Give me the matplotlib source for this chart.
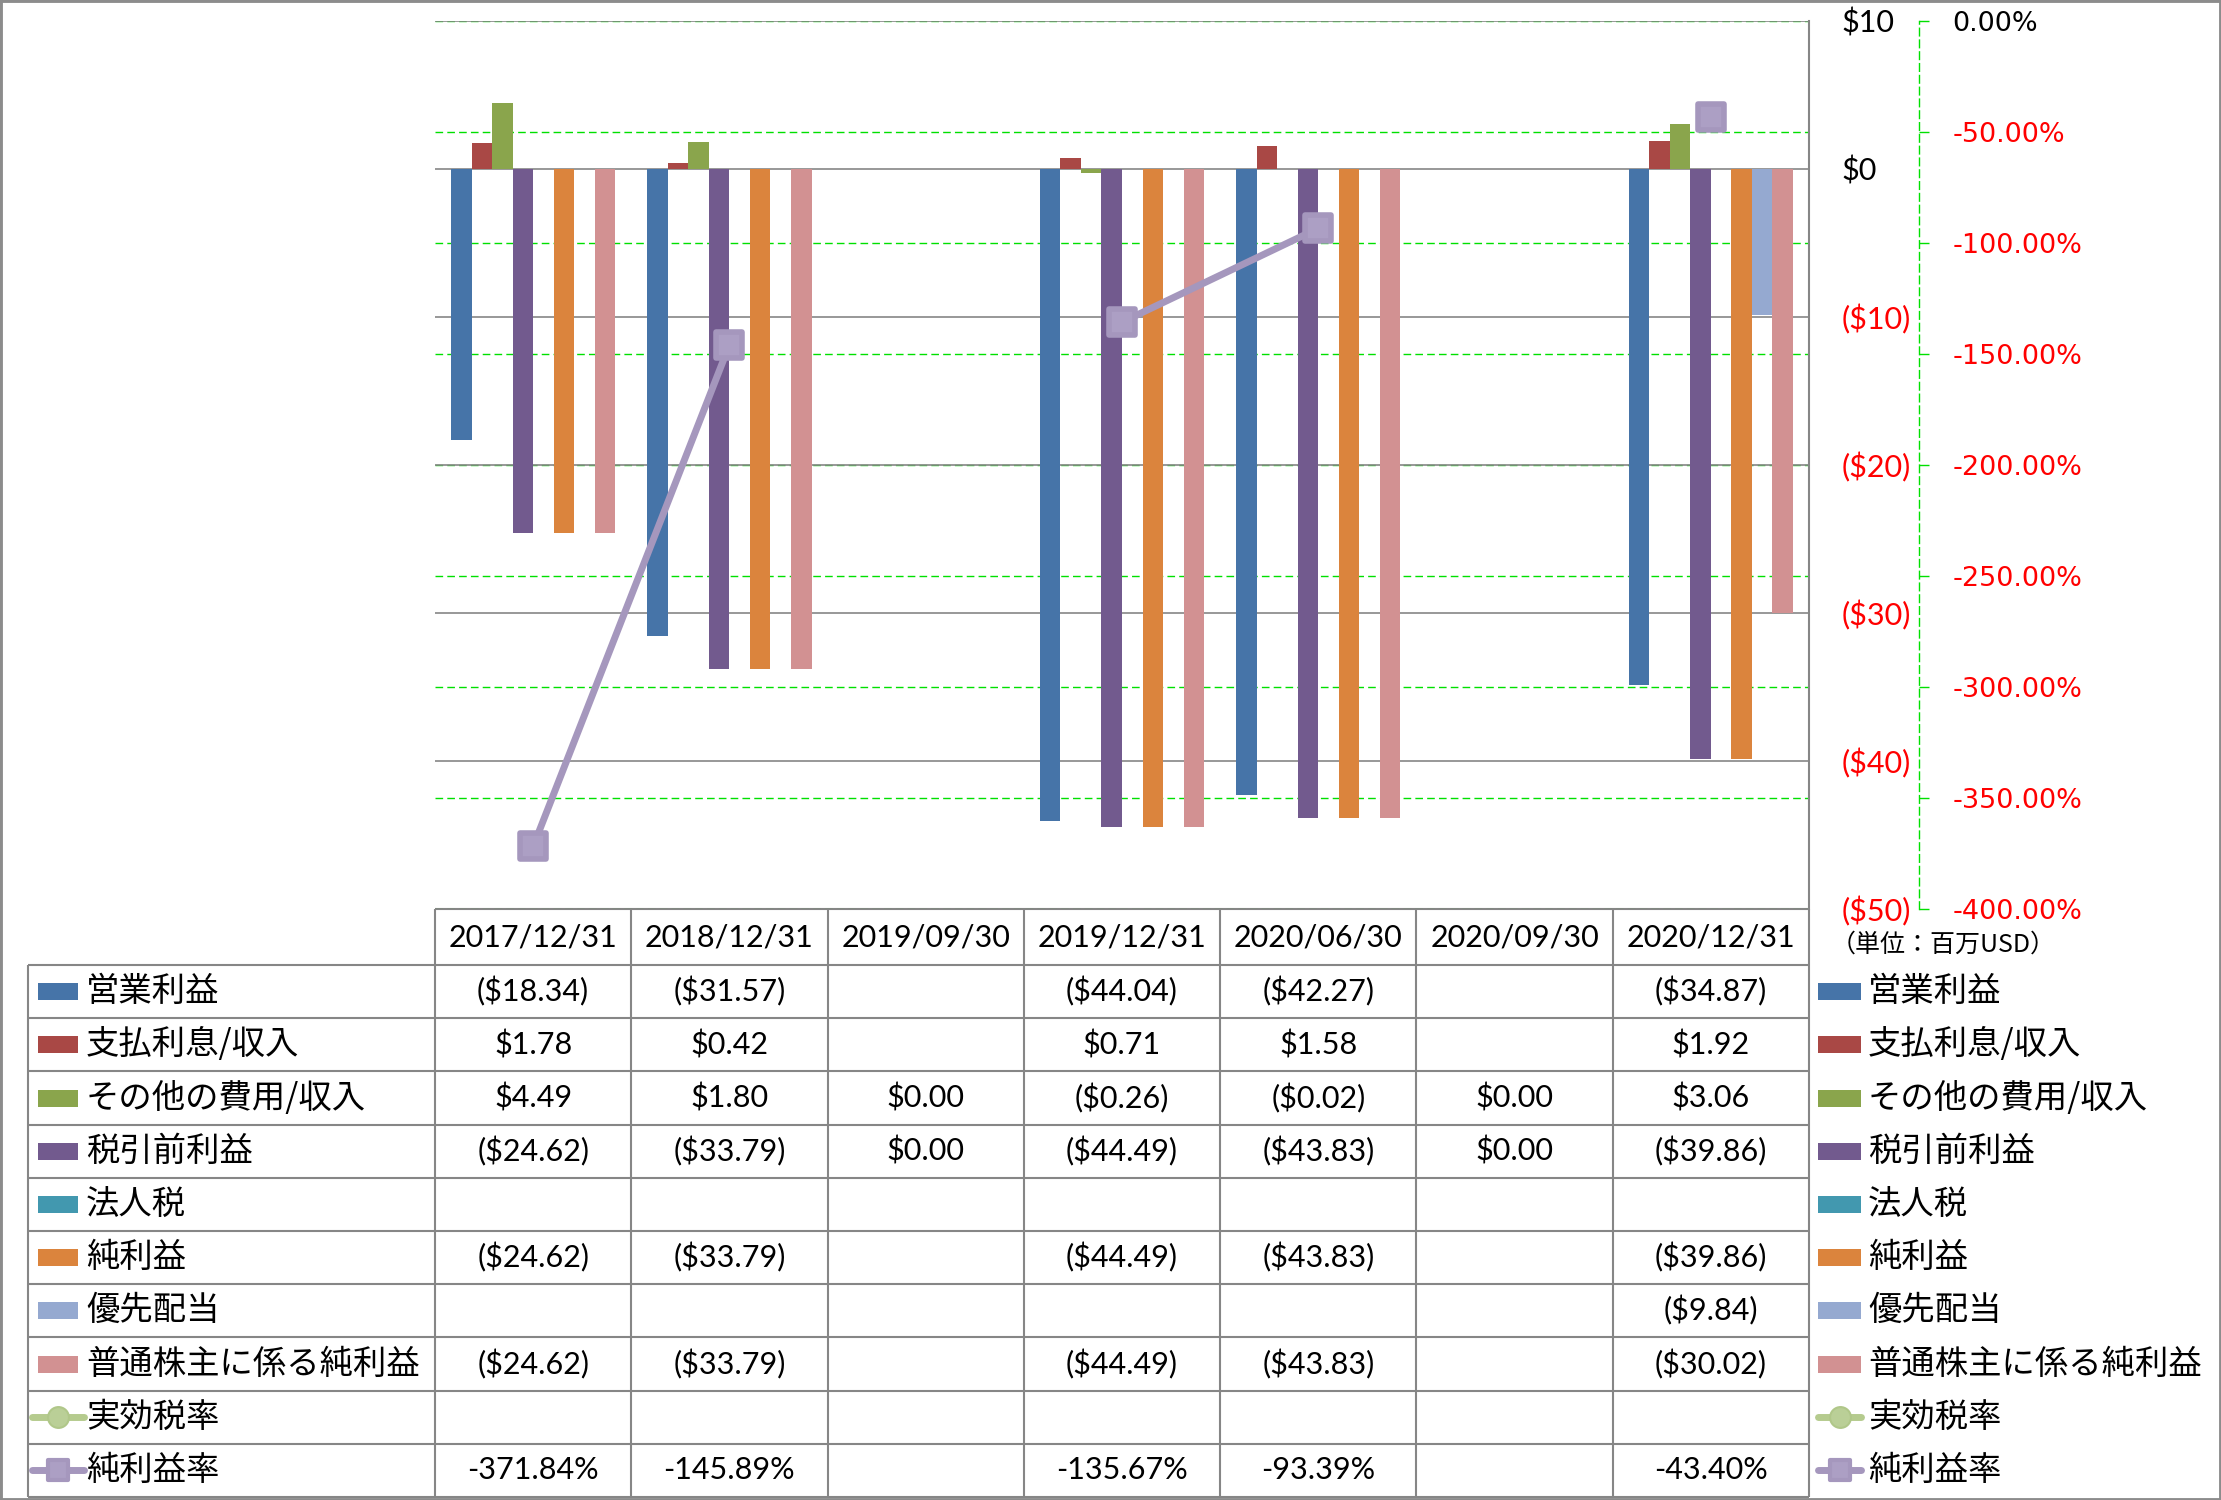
import numpy as np
import matplotlib
matplotlib.use("Agg")
from matplotlib import pyplot as plt
from matplotlib.markers import MarkerStyle
from matplotlib.patches import Rectangle

# ---- datos (millones USD) ----
dates = ["2017/12/31", "2018/12/31", "2019/09/30", "2019/12/31",
         "2020/06/30", "2020/09/30", "2020/12/31"]
nan = np.nan
op_income = [-18.34, -31.57, nan, -44.04, -42.27, nan, -34.87]
interest = [1.78, 0.42, nan, 0.71, 1.58, nan, 1.92]
other_exp = [4.49, 1.80, 0.00, -0.26, -0.02, 0.00, 3.06]
pretax = [-24.62, -33.79, 0.00, -44.49, -43.83, 0.00, -39.86]
income_tax = [nan] * 7
net_income = [-24.62, -33.79, nan, -44.49, -43.83, nan, -39.86]
pref_div = [nan, nan, nan, nan, nan, nan, -9.84]
net_common = [-24.62, -33.79, nan, -44.49, -43.83, nan, -30.02]
tax_rate = [nan] * 7
net_margin = [-371.84, -145.89, nan, -135.67, -93.39, nan, -43.40]

bar_names = ["営業利益", "支払利息/収入", "その他の費用/収入", "税引前利益",
             "法人税", "純利益", "優先配当", "普通株主に係る純利益"]
line_names = ["実効税率", "純利益率"]
bar_series = [op_income, interest, other_exp, pretax,
              income_tax, net_income, pref_div, net_common]
bar_colors = ["#4674A8", "#A94845", "#8AA54C", "#725A8E",
              "#4298AF", "#DB843D", "#95A9D0", "#D29192"]
line_colors = ["#B5CB8E", "#A597BD"]
usd_ticks = [10, 0, -10, -20, -30, -40, -50]
pct_ticks = [0, -0.5, -1.0, -1.5, -2.0, -2.5, -3.0, -3.5, -4.0]

W, H = 2221, 1500
NUM_FONT = ["Lato", "DejaVu Sans"]
JP_FONT = ["Noto Sans CJK JP", "DejaVu Sans"]
GRID = "#868686"
GREEN = "#00E000"


def box(x0, y0, x1, y1):
    # pixel box -> figure fraction
    return [x0 / W, 1 - y1 / H, (x1 - x0) / W, (y1 - y0) / H]


def fmt_usd(v):
    if np.isnan(v):
        return ""
    if v < 0:
        return "(${:.2f})".format(-v)
    return "${:.2f}".format(v)


def fmt_pct(v):
    if np.isnan(v):
        return ""
    return "{:.2f}%".format(v)


def usd_tick(v):
    return "(${:d})".format(-v) if v < 0 else "${:d}".format(v)


fig = plt.figure(figsize=(W / 100, H / 100), dpi=100)
fig.patch.set_facecolor("white")

ax = fig.add_axes(box(435, 21, 1809, 909))
ax_p = ax.twinx()
ax_l = ax.twinx()
ax_p.set_zorder(1)
ax.set_zorder(2)
ax_l.set_zorder(3)
ax.patch.set_visible(False)

ncat = len(dates)
xc = np.arange(ncat)
nb = len(bar_series)
w = 1.0 / (nb + 1.56)

for i, (vals, col) in enumerate(zip(bar_series, bar_colors)):
    v = np.array(vals, dtype=float)
    ok = ~np.isnan(v)
    ax.bar(xc[ok] + (i - (nb - 1) / 2) * w, v[ok], width=w, color=col,
           zorder=2, linewidth=0)

ax.set_xlim(-0.5, ncat - 0.5)
ax.set_ylim(-50, 10)
ax.set_xticks([])
ax.yaxis.tick_right()
ax.set_yticks(usd_ticks, [usd_tick(t) for t in usd_ticks])
ax.tick_params(axis="y", length=0, pad=23.5, labelsize=22)
for lab, t in zip(ax.get_yticklabels(), usd_ticks):
    lab.set_fontfamily(NUM_FONT)
    lab.set_color("red" if t < 0 else "black")
    lab.set_horizontalalignment("left")
ax.yaxis.grid(True, color=GRID, linewidth=1.2)
ax.set_axisbelow(True)
for s in ["left", "top", "bottom"]:
    ax.spines[s].set_visible(False)
ax.spines["right"].set_color(GRID)
ax.spines["right"].set_linewidth(1.5)

# eje porcentual (spine primero: set_position reinicia los ticks)
for s in ["left", "top", "bottom"]:
    ax_p.spines[s].set_visible(False)
ax_p.spines["right"].set_position(("axes", (1919 - 435) / (1809 - 435)))
ax_p.spines["right"].set_color(GREEN)
ax_p.spines["right"].set_linestyle((0, (5.5, 3)))
ax_p.spines["right"].set_linewidth(1)
ax_p.set_ylim(-4, 0)
ax_p.set_yticks(pct_ticks, ["{:.2f}%".format(t * 100) for t in pct_ticks])
ax_p.tick_params(axis="y", direction="out", length=7, width=1, color=GREEN,
                 pad=17, labelsize=19.5)
for lab, t in zip(ax_p.get_yticklabels(), pct_ticks):
    lab.set_fontfamily("DejaVu Sans")
    lab.set_color("red" if t < 0 else "black")
ax_p.yaxis.grid(True, color=GREEN, linewidth=1.0, linestyle=(0, (5.5, 3)))

# linea de margen neto
rsq = MarkerStyle("s", joinstyle="round")
ax_l.plot(xc, np.array(net_margin) / 100, color=line_colors[1], lw=5,
          marker=rsq, markersize=19, markerfacecolor="#AC9FC4",
          markeredgecolor=line_colors[1], markeredgewidth=4, zorder=5)
ax_l.set_ylim(-4, 0)
ax_l.axis("off")

# ---- tabla de datos ----
col_px = (1809 - 435) / ncat
row_px = (1497 - 965) / 10
hdr = (965 - 909) / row_px
xmin = -0.5 - (435 - 28) / col_px
axt = fig.add_axes(box(28, 909, 1809, 1497))
axt.set_xlim(xmin, ncat - 0.5)
axt.set_ylim(10, -hdr)
axt.axis("off")
nrow = nb + len(line_names)
tl = dict(color=GRID, lw=1.5, clip_on=False)
axt.hlines(-hdr, -0.5, ncat - 0.5, **tl)
axt.hlines(np.arange(nrow + 1), xmin, ncat - 0.5, **tl)
axt.vlines(np.arange(ncat + 1) - 0.5, -hdr, nrow, **tl)
axt.vlines([xmin], 0, nrow, **tl)

for j, d in enumerate(dates):
    axt.text(j, -hdr / 2, d, ha="center", va="center", fontsize=22,
             family=NUM_FONT)

row_vals = [[fmt_usd(v) for v in s] for s in bar_series]
row_vals.append([fmt_pct(v) for v in tax_rate])
row_vals.append([fmt_pct(v) for v in net_margin])
for r, vals in enumerate(row_vals):
    for j, s in enumerate(vals):
        axt.text(j, r + 0.5, s, ha="center", va="center", fontsize=22,
                 family=NUM_FONT)

kx0 = xmin + 10 / col_px
kx1 = xmin + 50 / col_px
tx = xmin + 58 / col_px
kh = 17 / row_px


def draw_keys(a, x0, x1, xt, fs):
    for r in range(nrow):
        yc = r + 0.5
        if r < nb:
            a.add_patch(Rectangle((x0, yc - kh / 2), x1 - x0, kh,
                                  color=bar_colors[r], lw=0, clip_on=False))
            name = bar_names[r]
        else:
            k = r - nb
            a.plot([x0 - 0.03, x1 + 0.03], [yc, yc], color=line_colors[k],
                   lw=5, clip_on=False, solid_capstyle="round")
            if k == 0:
                a.plot([(x0 + x1) / 2], [yc], marker="o", markersize=15,
                       color="#BACF97", mec="#B0C789", mew=1.5,
                       clip_on=False)
            else:
                a.plot([(x0 + x1) / 2], [yc], marker=rsq, markersize=14,
                       markerfacecolor="#AC9FC4", mec=line_colors[1],
                       mew=3, clip_on=False)
            name = line_names[k]
        a.text(xt, yc, name, ha="left", va="center", fontsize=fs,
               family=JP_FONT)


draw_keys(axt, kx0, kx1, tx, 24)

# leyenda derecha
axr = fig.add_axes(box(1809, 909, 2221, 1497))
axr.set_xlim(0, 412)
axr.set_ylim(10, -hdr)
axr.axis("off")
draw_keys(axr, 9, 52, 59, 24)
axr.text(22, -hdr / 2 + 0.15, "（単位：百万USD）", ha="left", va="center",
         fontsize=18, family=JP_FONT)

fig.add_artist(Rectangle((0, 0), 1, 1, transform=fig.transFigure,
                         fill=False, ec="#8C8C8C", lw=3.5))

fig.savefig("out.png", dpi=100)
